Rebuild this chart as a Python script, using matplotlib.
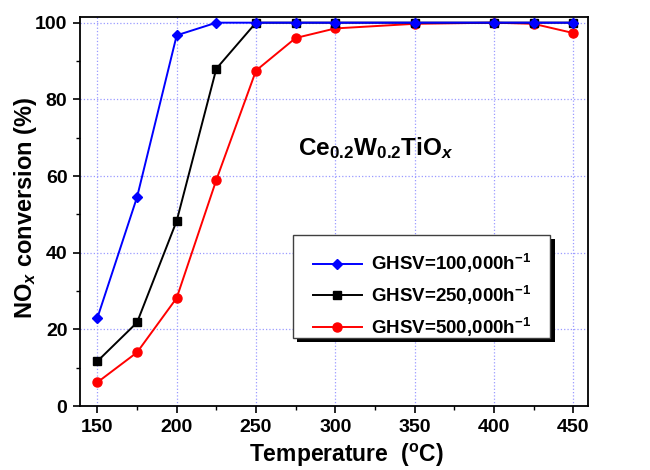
import matplotlib
matplotlib.use("Agg")
import matplotlib.pyplot as plt
from matplotlib.ticker import MultipleLocator
from matplotlib.patches import Rectangle

plt.rcParams['font.family'] = ['Liberation Sans', 'DejaVu Sans']
plt.rcParams['font.weight'] = 'bold'
plt.rcParams['mathtext.fontset'] = 'custom'
plt.rcParams['mathtext.rm'] = 'Liberation Sans:bold'
plt.rcParams['mathtext.bf'] = 'Liberation Sans:bold'
plt.rcParams['mathtext.it'] = 'Liberation Sans:bold:italic'
plt.rcParams['mathtext.default'] = 'bf'

temps = [150, 175, 200, 225, 250, 275, 300, 350, 400, 425, 450]
ghsv_100k = [23.0, 54.5, 96.7, 100, 100, 100, 100, 100, 100, 100, 100]
ghsv_250k = [11.7, 21.8, 48.3, 88.0, 100, 100, 100, 100, 100, 100, 100]
ghsv_500k = [6.2, 14.0, 28.2, 59.0, 87.5, 96.0, 98.5, 99.7, 100, 99.7, 97.3]
labels = ['GHSV=100,000h$^{-1}$', 'GHSV=250,000h$^{-1}$', 'GHSV=500,000h$^{-1}$']

fig = plt.figure(figsize=(6.5, 4.7), dpi=100)
ax = fig.add_axes([0.123, 0.136, 0.782, 0.828])

ax.plot(temps, ghsv_500k, color='red', marker='o', ms=6.5, lw=1.4, label=labels[2], zorder=3)
ax.plot(temps, ghsv_250k, color='black', marker='s', ms=5.5, lw=1.4, label=labels[1], zorder=4)
ax.plot(temps, ghsv_100k, color='blue', marker='D', ms=5.5, lw=1.4, label=labels[0], zorder=5)

ax.set_xlim(139, 459.5)
ax.set_ylim(0, 101.5)
ax.xaxis.set_major_locator(MultipleLocator(50))
ax.xaxis.set_minor_locator(MultipleLocator(25))
ax.yaxis.set_major_locator(MultipleLocator(20))
ax.yaxis.set_minor_locator(MultipleLocator(10))
ax.grid(True, which='major', color='#9a9aff', linestyle=':', lw=0.9)
ax.tick_params(which='major', direction='out', length=5, width=1.2, labelsize=14, pad=4)
ax.tick_params(which='minor', direction='out', length=3, width=1.0)
for s in ax.spines.values():
    s.set_linewidth(1.3)
for lab in ax.get_xticklabels() + ax.get_yticklabels():
    lab.set_fontweight('bold')

ax.set_xlabel('Temperature  ($^{\\mathrm{o}}$C)', fontsize=16.5, fontweight='bold')
ax.xaxis.set_label_coords(0.524, -0.092)
ax.set_ylabel('NO$_{\\mathit{x}}$ conversion (%)', fontsize=17, fontweight='bold')
ax.yaxis.set_label_coords(-0.08, 0.51)

ax.text(0.428, 0.645, 'Ce$_{0.2}$W$_{0.2}$TiO$_{\\mathit{x}}$',
        transform=ax.transAxes, fontsize=17.5, fontweight='bold')

h, l = ax.get_legend_handles_labels()
order = [2, 1, 0]
leg = ax.legend([h[i] for i in order], [l[i] for i in order],
                loc='upper left', bbox_to_anchor=(0.4587, 0.395),
                fontsize=13.5, frameon=False,
                borderpad=0, handlelength=2.6, labelspacing=0.45, borderaxespad=0,
                handletextpad=0.5)
for t in leg.get_texts():
    t.set_fontweight('bold')
leg.set_zorder(10)

# legend box with offset shadow
x0, x1, y0, y1 = 0.419, 0.925, 0.175, 0.440
dx = 4.5 / (0.782 * 650)
dy = 4.5 / (0.828 * 470)
ax.add_patch(Rectangle((x0 + dx, y0 - dy), x1 - x0, y1 - y0, transform=ax.transAxes,
                       facecolor='black', edgecolor='none', zorder=8, clip_on=False))
ax.add_patch(Rectangle((x0, y0), x1 - x0, y1 - y0, transform=ax.transAxes,
                       facecolor='white', edgecolor='#404040', lw=1.0, zorder=9, clip_on=False))

fig.savefig('out.png', dpi=100)
